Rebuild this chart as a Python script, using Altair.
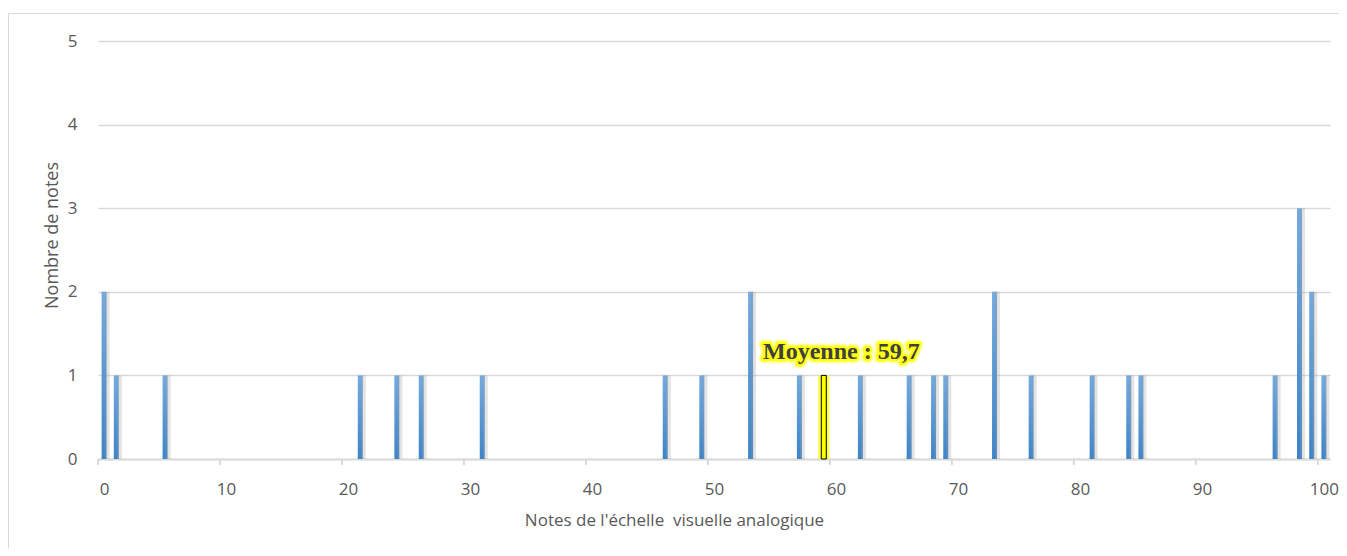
import altair as alt
import pandas as pd

# ---- data ----
scores = [0, 1, 5, 21, 24, 26, 31, 46, 49, 53, 57, 62, 66, 68, 69, 73, 76, 81, 84, 85, 96, 98, 99, 100]
counts = [2, 1, 1, 1, 1, 1, 1, 1, 1, 2, 1, 1, 1, 1, 1, 2, 1, 1, 1, 1, 1, 3, 2, 1]
mean_position = [59]
mean_count = [1]
mean_value = [59.7]
mean_label = ["Moyenne : 59,7"]
x_tick_labels = [0, 10, 20, 30, 40, 50, 60, 70, 80, 90, 100]
y_tick_labels = [0, 1, 2, 3, 4, 5]

bars_df = pd.DataFrame({"note": scores, "count": counts})
mean_df = pd.DataFrame({"note": mean_position, "count": mean_count,
                        "mean": mean_value, "label": mean_label})
ticks_df = pd.DataFrame({"note": [v - 0.5 for v in x_tick_labels]})
frame_df = pd.DataFrame({"k": [0]})

W, H = 1232, 418
GRID = "#d9d9d9"
TXT = "#595959"
FONT = "Open Sans"

xs = alt.Scale(domain=[-0.5, 100.5], nice=False, zero=False, padding=0)
ys = alt.Scale(domain=[0, 5], nice=False, padding=0)

x_axis = alt.Axis(
    values=x_tick_labels, ticks=False, grid=False,
    domainColor=GRID, domainWidth=2,
    labelPadding=22, labelFontSize=17, labelColor=TXT, labelFont=FONT,
    title="Notes de l'échelle\u00a0 visuelle analogique",
    titleFont=FONT, titleFontSize=17, titleFontWeight="normal",
    titleColor=TXT, titleBaseline="top", titleY=53, titleX=576,
)
y_axis = alt.Axis(
    values=y_tick_labels, ticks=False, domain=False,
    gridColor=GRID, gridWidth=1.5,
    labelPadding=21, labelFontSize=17, labelColor=TXT, labelFont=FONT,
    title="Nombre de notes",
    titleFont=FONT, titleFontSize=18, titleFontWeight="normal",
    titleColor=TXT, titleX=-46, titleY=194, titleBaseline="middle",
)


def X(field):
    return alt.X(field, type="quantitative", scale=xs, axis=x_axis)


def Y(field):
    return alt.Y(field, type="quantitative", scale=ys, axis=y_axis)


blue = alt.Gradient(
    gradient="linear",
    stops=[alt.GradientStop(color="#74aadf", offset=0),
           alt.GradientStop(color="#3c84c8", offset=1)],
    x1=0, x2=0, y1=0, y2=1,
)

frame = alt.Chart(frame_df).mark_rect(
    fillOpacity=0, stroke=GRID, strokeWidth=1
).encode(
    x=alt.value(-89.5), x2=alt.value(W + 100),
    y=alt.value(-27.5), y2=alt.value(H + 200),
)

bars = alt.Chart(bars_df).mark_bar(size=5, color=blue).encode(
    x=X("note"), y=Y("count"),
)

shadow = alt.Chart(bars_df).mark_bar(
    size=5, color="#9a9a9a", opacity=0.28, xOffset=3
).encode(x=X("note"), y=Y("count"))

xticks = alt.Chart(ticks_df).mark_rule(color=GRID, strokeWidth=2).encode(
    x=X("note"),
    y=alt.value(H),
    y2=alt.value(H + 6),
)

mean_glow = alt.Chart(mean_df).mark_bar(
    size=11, color="#ffff00", opacity=0.75
).encode(x=X("note"), y=Y("count"))

mean_bar = alt.Chart(mean_df).mark_bar(
    size=5, color="#ffff00", stroke="#000000", strokeWidth=1
).encode(x=X("note"), y=Y("count"))

label_glow_outer = alt.Chart(mean_df).mark_text(
    font="Liberation Serif", fontWeight="bold", fontSize=24,
    dx=9, dy=-16, baseline="alphabetic", align="center",
    color="#ffff00", stroke="#ffff00", strokeWidth=9, strokeJoin="round",
    opacity=0.35,
).encode(x=X("mean"), y=Y("count"), text="label:N")

label_glow = alt.Chart(mean_df).mark_text(
    font="Liberation Serif", fontWeight="bold", fontSize=24,
    dx=9, dy=-16, baseline="alphabetic", align="center",
    color="#ffff00", stroke="#ffff00", strokeWidth=5, strokeJoin="round",
    opacity=0.9,
).encode(x=X("mean"), y=Y("count"), text="label:N")

label = alt.Chart(mean_df).mark_text(
    font="Liberation Serif", fontWeight="bold", fontSize=24,
    dx=9, dy=-16, baseline="alphabetic", align="center",
    color="#404040",
).encode(x=X("mean"), y=Y("count"), text="label:N")

chart = alt.layer(
    frame, bars, shadow, xticks, mean_glow, mean_bar,
    label_glow_outer, label_glow, label
).properties(
    width=W, height=H,
    autosize=alt.AutoSizeParams(type="none"),
    padding={"left": 90, "top": 33, "right": 9, "bottom": 89},
    background="#ffffff",
).configure_view(strokeWidth=0)

chart.save("out.html", embed_options={"renderer": "svg", "actions": False})
